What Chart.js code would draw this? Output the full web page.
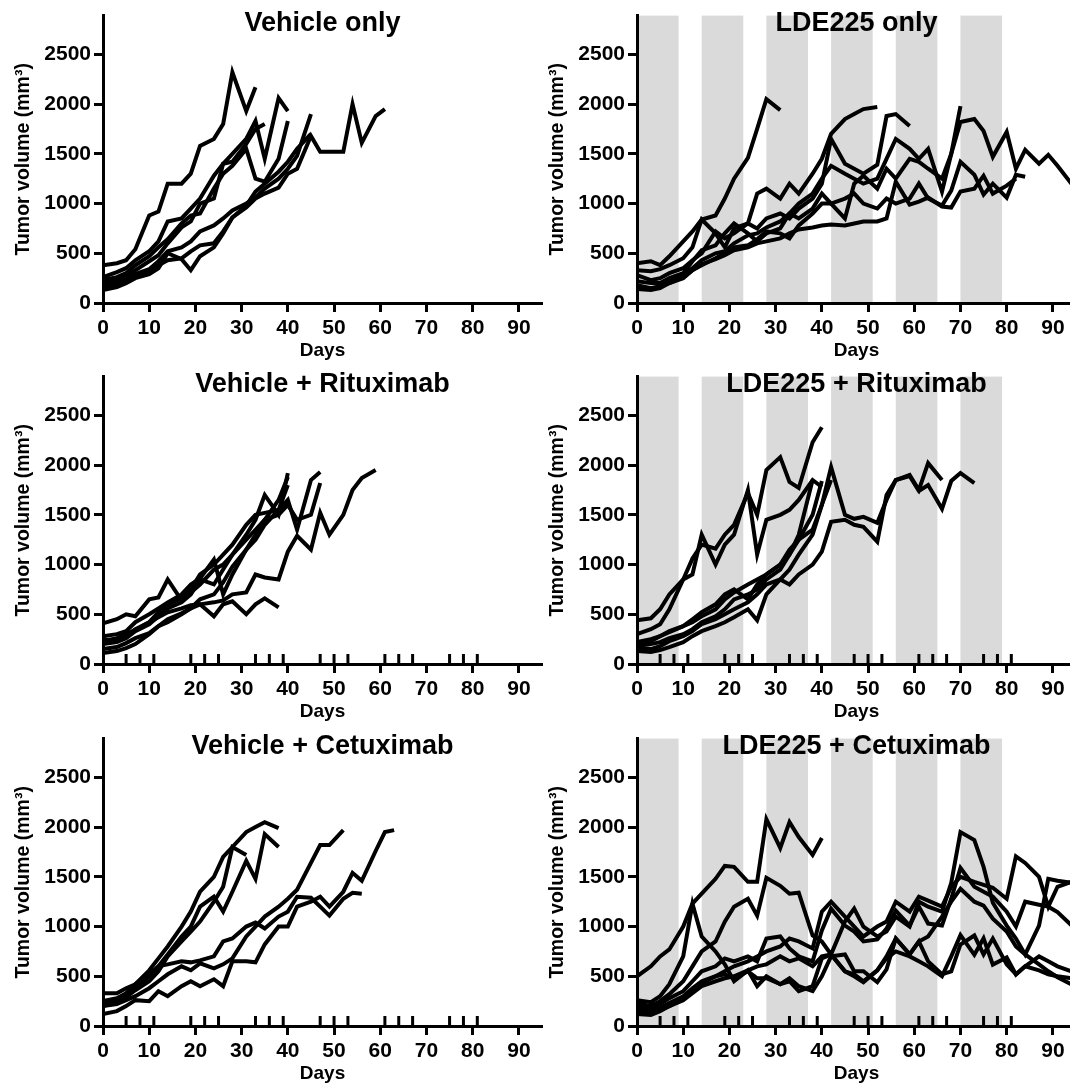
<!DOCTYPE html>
<html><head><meta charset="utf-8">
<script src="https://cdn.jsdelivr.net/npm/chart.js@4.4.1/dist/chart.umd.min.js"></script>
<style>
html,body{margin:0;padding:0;background:#fff;width:1070px;height:1090px;overflow:hidden;}
#wrap{position:relative;width:1070px;height:1090px;overflow:hidden;}
canvas{position:absolute;}
</style></head><body><div id="wrap">
<canvas id="c0" width="560" height="362" style="left:0px;top:0px"></canvas>
<canvas id="c1" width="550" height="362" style="left:534px;top:0px"></canvas>
<canvas id="c2" width="560" height="362" style="left:0px;top:361px"></canvas>
<canvas id="c3" width="550" height="362" style="left:534px;top:361px"></canvas>
<canvas id="c4" width="560" height="362" style="left:0px;top:723px"></canvas>
<canvas id="c5" width="550" height="362" style="left:534px;top:723px"></canvas>
</div>
<script>
// measurement days shared by all series (each series uses the first N)
const days = [0,3,5,7,10,12,14,17,19,21,24,26,28,31,33,35,38,40,42,45,47,49,52,54,56,59,61,63,66,68,70,73,75,77,80,82,84,87,89,91,94,96];
const panelTitles = ['Vehicle only','LDE225 only','Vehicle + Rituximab','LDE225 + Rituximab','Vehicle + Cetuximab','LDE225 + Cetuximab'];
const xTicks = [0,10,20,30,40,50,60,70,80,90];
const yTicks = [0,500,1000,1500,2000,2500];
const bandStart = [0,14,28,42,56,70];
const bandEnd = [9,23,37,51,65,79];
const treatmentDays = [5,8,11,19,22,25,33,36,39,47,50,53,61,64,67,75,78,81];

const vehicleOnly = [
  [380,400,430,540,880,920,1200,1200,1300,1580,1650,1800,2320,1930,2170],
  [260,310,350,430,520,620,820,850,950,1050,1280,1400,1500,1650,1830,1450,2060,1930],
  [230,260,300,380,470,560,640,800,880,900,1150,1300,1380,1550,1250,1220,1450,1830],
  [200,240,280,330,420,480,600,760,820,1000,1050,1400,1420,1600,1750,1800],
  [180,210,240,290,340,420,520,560,620,720,780,850,930,1000,1060,1150,1250,1350,1480,1900],
  [150,180,210,270,310,380,430,450,520,580,600,720,860,960,1050,1100,1160,1300,1350,1680,1520,1520,1520,2000,1610,1880,1950],
  [130,160,200,250,290,350,500,440,330,470,560,700,860,980,1120,1200,1320,1420,1550,1700]
];
const lde225Only = [
  [400,420,380,470,620,720,840,880,1050,1250,1460,1750,2050,1940],
  [330,320,340,380,450,560,840,700,560,750,800,1100,1150,1050,1200,1100,1300,1450,1700,1850,1900,1950,1970],
  [280,230,250,300,350,430,500,720,650,700,800,750,850,900,850,950,1050,1200,1650,1400,1350,1300,1390,1880,1900,1780],
  [220,200,200,250,300,420,530,580,700,800,700,620,700,750,900,1000,1100,1250,1380,1300,1250,1200,1250,1450,1650,1550,1450,1550,1120,1500,1980],
  [180,150,170,230,280,350,430,500,520,600,680,700,760,820,900,850,950,1100,1000,850,1200,1280,1150,1350,1250,1450,1420,1350,1250,1500,1820,1850,1730,1470,1720,1350,1540,1400,1490,1380,1200,1460],
  [160,140,170,200,250,330,380,450,500,560,580,640,720,700,650,780,900,1000,1000,1050,1100,1000,950,1050,1000,1050,1200,1050,980,1130,1420,1290,1090,1200,1060,1290,1270],
  [140,130,150,200,260,330,390,440,480,530,560,600,620,650,700,740,760,780,790,780,800,820,820,850,1220,990,1020,1060,970,960,1120,1150,1280,1100,1180,1250]
];
const vehicleRituximab = [
  [410,450,500,480,650,670,850,640,720,800,950,1000,1100,1300,1450,1700,1500,1920],
  [280,300,330,420,500,560,620,700,800,860,1050,700,900,1150,1300,1450,1650,1880],
  [250,230,280,350,420,520,600,660,750,900,1000,1100,1200,1400,1500,1520,1550,1650,1350,1850,1930],
  [200,220,260,330,400,480,560,620,700,850,800,950,1100,1250,1350,1450,1500,1600,1450,1500,1820],
  [150,170,210,260,310,380,450,510,560,600,620,640,700,720,900,870,850,1130,1290,1150,1520,1300,1500,1750,1870,1950],
  [230,260,300,340,420,470,520,560,590,600,480,600,630,500,600,660,570],
  [110,130,160,200,300,380,420,500,560,650,700,820,980,1150,1250,1400,1550,1800]
];
const lde225Rituximab = [
  [440,460,550,700,850,1060,1200,1160,1300,1400,1720,1500,1950,2080,1830,1770,2230,2380],
  [300,350,400,550,850,900,1300,1000,1200,1300,1750,1100,1450,1500,1550,1650,1850,1780],
  [200,230,280,320,380,450,520,600,700,750,650,800,900,1000,1100,1250,1350,1600,1980,1500,1460,1480,1420,1650,1850,1890,1740,1800,1560,1840,1920,1820],
  [130,120,140,170,220,280,330,380,420,470,550,440,700,850,800,900,1000,1130,1430,1450,1400,1380,1230,1700,1850,1900,1750,2020,1850],
  [220,250,280,330,380,420,480,550,650,720,800,850,900,1000,1150,1250,1500,1840],
  [180,200,220,260,300,350,420,480,550,650,700,750,850,950,1100,1300,1850],
  [160,150,180,230,280,330,400,450,500,550,620,700,800,850,950,1100,1300,1600,1850]
];
const vehicleCetuximab = [
  [250,280,330,420,560,680,800,1000,1150,1350,1500,1700,1800,1950,2000,2050,1990],
  [220,260,310,380,500,600,720,900,1000,1200,1300,1150,1350,1660,1480,1930,1800],
  [200,240,290,360,450,550,700,850,950,1050,1250,1400,1800,1720],
  [200,220,260,300,380,450,520,600,560,630,580,620,680,900,1000,1100,1200,1280,1370,1640,1820,1820,1970],
  [120,150,200,260,250,350,300,400,450,400,470,400,650,650,640,820,1000,1000,1200,1250,1300,1200,1350,1540,1460,1760,1950,1970],
  [330,330,380,420,520,600,620,650,640,660,700,850,880,1000,1040,980,1100,1150,1300,1290,1200,1110,1280,1340,1330]
];
const lde225Cetuximab = [
  [500,600,700,770,1000,1230,1330,1480,1610,1600,1450,1450,2080,1790,2050,1900,1720,1890],
  [260,240,300,420,700,1230,900,750,620,450,560,400,500,420,480,400,350,500,700,720,550,550,440,570,880,720,850,650,520,550,820,910,720,880,620,520,600,700,650,600,550,500],
  [230,200,250,320,450,600,750,850,1050,1200,1280,1110,1490,1410,1330,1340,910,850,720,1050,1180,1000,900,950,1100,1000,1250,1200,1150,1440,1950,1870,1600,1240,1010,880,720,1010,1480,1460,1440,1440],
  [200,180,220,280,350,450,550,600,680,650,700,650,880,900,780,700,650,960,1180,1010,950,850,870,980,1160,1010,1200,1030,1010,1280,1590,1400,1350,1300,1150,1000,1250,1220,1200,1145,1013,980],
  [170,150,180,230,300,380,450,500,520,480,550,480,480,420,450,350,400,680,720,550,500,440,560,700,880,720,850,900,1100,1250,1380,1250,1210,1080,950,800,720,620,550,490,420,400],
  [150,140,160,200,280,350,430,500,550,600,650,700,750,800,880,850,780,1150,1250,1100,1000,900,1000,1050,1250,1150,1300,1260,1200,1400,1500,1450,1420,1390,1280,1706,1640,1500,1200,1400,1450,1460],
  [120,110,150,200,260,330,400,450,480,500,560,600,620,700,650,680,600,700,720,550,520,450,560,680,750,700,650,600,500,700,914,716,881,617,690,518,600,560,520,500,480]
];

const panels = [
  {id:'c0', title:panelTitles[0], series:vehicleOnly, bands:false, treat:false, right:18},
  {id:'c1', title:panelTitles[1], series:lde225Only, bands:true, treat:false, right:8},
  {id:'c2', title:panelTitles[2], series:vehicleRituximab, bands:false, treat:true, right:18},
  {id:'c3', title:panelTitles[3], series:lde225Rituximab, bands:true, treat:true, right:8},
  {id:'c4', title:panelTitles[4], series:vehicleCetuximab, bands:false, treat:true, right:18},
  {id:'c5', title:panelTitles[5], series:lde225Cetuximab, bands:true, treat:true, right:8}
];

const FONT = "'Liberation Sans', Arial, Helvetica, sans-serif";
Chart.defaults.font.family = FONT;
Chart.defaults.font.weight = 'bold';
Chart.defaults.color = '#000';

const bandPlugin = {
  id: 'bands',
  beforeDraw(chart, args, opts) {
    if (!opts || !opts.show) return;
    const {ctx, chartArea} = chart;
    const xs = chart.scales.x;
    ctx.save();
    ctx.fillStyle = '#dadada';
    for (let i = 0; i < bandStart.length; i++) {
      const a = xs.getPixelForValue(bandStart[i]);
      const b = Math.min(xs.getPixelForValue(bandEnd[i]), chartArea.right);
      ctx.fillRect(a, chartArea.top, b - a, chartArea.bottom - chartArea.top);
    }
    ctx.restore();
  }
};

panels.forEach(p => {
  const datasets = p.series.map(vals => ({
    data: vals.map((v, i) => ({x: days[i], y: v})),
    borderColor: '#000', borderWidth: 4, pointRadius: 0, fill: false, tension: 0,
    borderJoinStyle: 'miter'
  }));
  if (p.treat) {
    datasets.push({
      data: treatmentDays.map(d => ({x: d, y: 50})),
      showLine: false, pointStyle: 'line', rotation: 90, pointRadius: 5,
      borderColor: '#000', borderWidth: 3, pointBorderWidth: 3, pointBorderColor: '#000'
    });
  }
  new Chart(document.getElementById(p.id), {
    type: 'line',
    data: {datasets},
    plugins: [bandPlugin],
    options: {
      responsive: false, animation: false, devicePixelRatio: 1,
      layout: {padding: {left: 0, right: p.right, top: 0, bottom: 0}},
      plugins: {
        legend: {display: false}, tooltip: {enabled: false},
        bands: {show: p.bands},
        title: {display: true, fullSize: false, text: p.title, color: '#000',
          font: {size: 27, weight: 'bold', family: FONT, lineHeight: 1.2},
          padding: {top: 4, bottom: -24.4}}
      },
      scales: {
        x: {
          type: 'linear', min: 0, max: 95,
          afterBuildTicks: s => { s.ticks = xTicks.map(v => ({value: v})); },
          afterFit: s => { s.height = 59; },
          ticks: {stepSize: 10, autoSkip: false, maxRotation: 0, padding: 4,
            callback: v => String(v),
            font: {size: 21, weight: 'bold'}, color: '#000'},
          grid: {drawOnChartArea: false, drawTicks: true, tickLength: 9, tickWidth: 3, tickColor: '#000'},
          border: {display: true, width: 3, color: '#000'},
          title: {display: true, text: 'Days', color: '#000',
            font: {size: 19, weight: 'bold'}, padding: {top: 0, bottom: 0}}
        },
        y: {
          type: 'linear', min: 0, max: 2890,
          afterBuildTicks: s => { s.ticks = yTicks.map(v => ({value: v})); },
          afterFit: s => { s.width = 103; },
          ticks: {stepSize: 500, padding: 3, callback: v => String(v),
            font: {size: 21, weight: 'bold'}, color: '#000'},
          grid: {drawOnChartArea: false, drawTicks: true, tickLength: 9, tickWidth: 3, tickColor: '#000'},
          border: {display: true, width: 3, color: '#000'},
          title: {display: true, text: 'Tumor volume (mm³)', color: '#000',
            font: {size: 19.5, weight: 'bold'}, padding: {top: 12, bottom: 0}}
        }
      }
    }
  });
});
</script></body></html>
